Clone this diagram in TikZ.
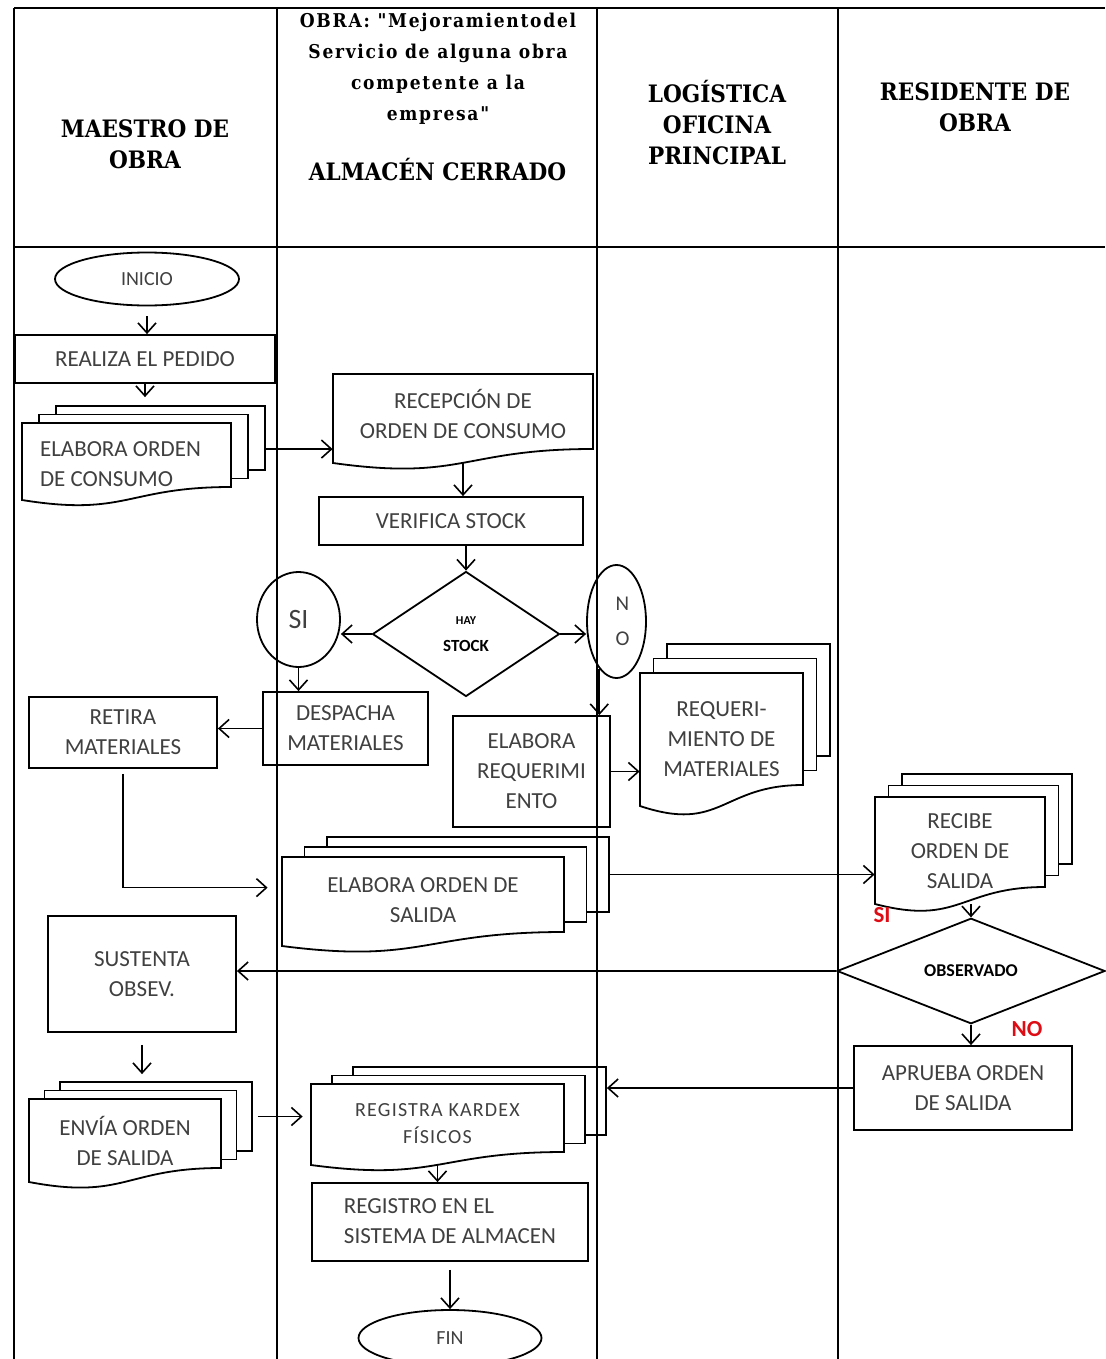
\documentclass[tikz,border=0pt]{standalone}
\usepackage{fontspec}
\setmainfont{Carlito}
\newfontfamily\hdrfont[FakeStretch=0.9]{DejaVu Serif}
\newfontfamily\hdrsmall[FakeStretch=0.9,LetterSpace=9]{DejaVu Serif}
\newfontfamily\kardexfont[LetterSpace=6]{Carlito}
\usetikzlibrary{arrows.meta,shapes.geometric,fit}
\definecolor{txt}{gray}{0.25}
\definecolor{redlab}{RGB}{222,12,20}
\newcommand\mybody{\fontsize{11.5}{15}\selectfont}
% front document outline: L T R RB LB
\newcommand\docoutline[5]{\draw[sheetline] (#1,#2) -- (#3,#2) -- (#3,#4) .. controls ({(#1+#3)/2},#4) and ({(#1+#3)/2},{#4+2.3*(#5-#4)}) .. (#1,#5) -- cycle;}
% two back sheets: name L T R RB dx dy
\newcommand\backsheets[7]{%
  \node[sheet, fit={({#2+2*#6},{#3-2*#7}) ({#4+2*#6},{#5-2*#7})}] (#1c) {};
  \node[sheet, fit={({#2+#6},{#3-#7}) ({#4+#6},{#5-#7})}] (#1b) {};}
% text node of a document: [opts] name L R LB cy text
\newcommand\docnode[7][]{\node[doctext,#1, minimum width={(#4-#3)*0.5pt}, minimum height={(#5-#6)*1pt}] (#2) at ({(#3+#4)/2},#6) {#7};}
% process box: [opts] name L T R B text
\newcommand\pbox[7][]{\node[box,#1,minimum width={(#5-#3)*0.5pt},minimum height={(#6-#4)*0.5pt}] (#2) at ({(#3+#5)/2},{(#4+#6)/2}) {#7};}
\begin{document}
\begin{tikzpicture}[x=0.5pt,y=-0.5pt,
  tbl/.style={draw, line width=1pt},
  box/.style={draw, line width=0.9pt, inner sep=0pt, align=center, text=txt, font=\mybody},
  doctext/.style={inner sep=0pt, align=center, text=txt, font=\mybody},
  sheet/.style={draw, line width=0.9pt, fill=white, inner sep=0pt},
  sheetline/.style={draw, line width=0.9pt, fill=white},
  oval/.style={ellipse, draw, line width=0.9pt, inner sep=0pt, align=center, text=txt},
  decis/.style={diamond, draw, line width=0.9pt, inner sep=0pt, align=center, text=black},
  arr/.style={draw, line width=0.8pt, -{Straight Barb[length=5pt,width=9pt]}},
  hdr/.style={align=center, font=\hdrfont\bfseries\fontsize{12}{15.5}\selectfont},
  redtxt/.style={text=redlab, font=\bfseries\fontsize{11.5}{13}\selectfont, inner sep=0pt}]
\useasboundingbox (0,0) rectangle (1105,1359);

% headers
\node[hdr] (h1) at (145,144.5) {MAESTRO DE\\OBRA};
\node[align=center, font=\hdrsmall\bfseries\fontsize{9.5}{15.5}\selectfont] (h2a) at (438,68.5)
  {OBRA: "Mejoramientodel\\Servicio de alguna obra\\competente a la\\empresa"};
\node[hdr] (h2b) at (437.5,170) {ALMACÉN CERRADO};
\node[hdr] (h3) at (717,123) {LOGÍSTICA\\OFICINA\\PRINCIPAL};
\node[hdr] (h4) at (975,107) {RESIDENTE DE\\OBRA};

% column 1
\node[oval, minimum width=92pt, minimum height=26.5pt, font=\fontsize{10}{12}\selectfont] (inicio) at (147,279) {INICIO};
\pbox{realiza}{15}{335}{275}{383}{REALIZA EL PEDIDO}
\backsheets{consumo}{22}{423}{231}{487}{17}{8.5}
\docoutline{22}{423}{231}{487}{500}
\docnode{consumo}{22}{231}{500}{465}{\hspace*{-6pt}\begin{tabular}{@{}l@{}}ELABORA ORDEN\\DE CONSUMO\end{tabular}}
\pbox{retira}{29}{697}{217}{768}{RETIRA\\MATERIALES}
\pbox{sustenta}{48}{916}{236}{1032}{SUSTENTA\\OBSEV.}
\backsheets{envia}{29}{1099}{221}{1168}{15.5}{8.5}
\docoutline{29}{1099}{221}{1168}{1182}
\docnode{envia}{29}{221}{1182}{1141}{ENVÍA ORDEN\\DE SALIDA}

% column 2
\docoutline{333}{374}{593}{449}{463}
\docnode{recepcion}{333}{593}{463}{414}{RECEPCIÓN DE\\ORDEN DE CONSUMO}
\pbox{verifica}{319}{497}{583}{545}{VERIFICA STOCK}
\node[decis, minimum width=93.5pt, minimum height=62.5pt, font=\bfseries\fontsize{8.5}{13.5}\selectfont] (hay) at (466,634) {\fontsize{6}{7}\selectfont HAY\\STOCK};
\node[oval, minimum width=41.5pt, minimum height=47.5pt, font=\fontsize{14}{16}\selectfont] (si) at (298.5,619.5) {SI};
\pbox{despacha}{263}{692}{428}{765}{DESPACHA\\MATERIALES}
\backsheets{salida}{282}{857}{564}{932}{22.5}{10}
\docoutline{282}{857}{564}{932}{946}
\docnode{salida}{282}{564}{946}{900}{ELABORA ORDEN DE\\SALIDA}
\backsheets{kardex}{311}{1084}{564}{1152}{21}{8.5}
\docoutline{311}{1084}{564}{1152}{1165}
\docnode[font=\kardexfont\fontsize{10}{13.5}\selectfont]{kardex}{311}{564}{1165}{1124}{REGISTRA KARDEX\\FÍSICOS}
\pbox{registro}{312}{1183}{588}{1261}{\begin{tabular}{@{}l@{}}REGISTRO EN EL\\SISTEMA DE ALMACEN\end{tabular}}
\node[oval, minimum width=91.5pt, minimum height=28pt, font=\fontsize{10}{12}\selectfont] (fin) at (450,1338) {FIN};

% column 3
\node[oval, minimum width=29.5pt, minimum height=56.5pt, font=\fontsize{10.5}{17.5}\selectfont] (no) at (616.5,621.5) {\hspace*{6pt}N\\\hspace*{6pt}O};
\pbox{elabreq}{453}{716}{610}{827}{ELABORA\\REQUERIMI\\ENTO}
\backsheets{req}{640}{673}{803}{785}{13.5}{14.5}
\docoutline{640}{673}{803}{785}{806}
\docnode{req}{640}{803}{806}{739}{REQUERI-\\MIENTO DE\\MATERIALES}

% column 4
\backsheets{recibe}{875}{797}{1045}{887}{13.5}{11.5}
\docoutline{875}{797}{1045}{887}{904}
\docnode{recibe}{875}{1045}{904}{851}{RECIBE\\ORDEN DE\\SALIDA}
\node[decis, minimum width=134pt, minimum height=46pt, font=\bfseries\fontsize{9}{11}\selectfont] (obs) at (971,971) {OBSERVADO};
\pbox{aprueba}{854}{1046}{1072}{1130}{APRUEBA ORDEN\\DE SALIDA}
\node[redtxt] (silab) at (882,915) {SI};
\node[redtxt] (nolab) at (1027,1029) {NO};

% connectors
\draw[arr, shorten <=5pt] (inicio.south) -- (inicio.south |- realiza.north);
\draw[arr, shorten >=4pt] (realiza.south) -- (realiza.south |- consumoc.north);
\draw[arr] (consumoc.-6.5) -- (consumoc.-6.5 -| recepcion.west);
\draw[arr] (recepcion.south) -- (recepcion.south |- verifica.north);
\draw[arr] (verifica.south -| hay.north) -- (hay.north);
\draw[arr] (hay.west) -- (hay.west -| si.east);
\draw[arr] (si.south) -- (si.south |- despacha.north);
\draw[arr] (despacha.west) -- (despacha.west -| retira.east);
\draw[arr, shorten <=2.5pt, shorten >=7pt] (retira.south) |- (salida.175);
\draw[arr] (hay.east) -- (hay.east -| no.west);
\draw[arr] (no.250) -- (no.250 |- elabreq.north);
\draw[arr] (elabreq.east) -- (elabreq.east -| req.west);
\draw[arr] (salidac.east) -- (salidac.east -| recibe.west);
\draw[arr] (recibe.south -| obs.north) -- (obs.north);
\draw[arr] (obs.west) -- (obs.west -| sustenta.east);
\draw[arr] (obs.south) -- (obs.south |- aprueba.north);
\draw[arr] (aprueba.west) -- (aprueba.west -| kardexc.east);
\draw[arr, shorten <=6pt, shorten >=3.5pt] (sustenta.south) -- (sustenta.south |- enviac.north);
\draw[arr, shorten <=2.5pt, shorten >=4pt] (enviac.east) -- (enviac.east -| kardex.west);
\draw[arr] (kardex.south) -- (kardex.south |- registro.north);
\draw[arr, shorten <=4pt] (registro.south) -- (registro.south |- fin.north);

% table frame
\draw[tbl] (14,8) -- (1105,8);
\draw[tbl] (14,247) -- (1105,247);
\foreach \cx in {14,277,597,838} \draw[tbl] (\cx,8) -- (\cx,1359);
\end{tikzpicture}
\end{document}
